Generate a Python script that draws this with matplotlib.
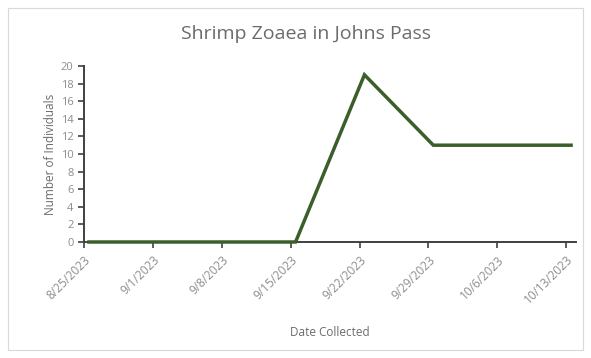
import matplotlib
matplotlib.use("Agg")
import matplotlib.pyplot as plt
from matplotlib.patches import Rectangle

# Sample dates and counts
dates = ["8/25/2023", "9/1/2023", "9/8/2023", "9/15/2023",
         "9/22/2023", "9/29/2023", "10/6/2023", "10/13/2023"]
counts = [0, 0, 0, 0, 19, 11, 11, 11]
day_offsets = [0, 7, 14, 21, 28, 35, 42, 49]   # days since 8/25/2023
y_ticks = list(range(0, 21, 2))

plt.rcParams['font.family'] = ['Open Sans', 'DejaVu Sans']

fig = plt.figure(figsize=(5.91, 3.58), dpi=100)
ax = fig.add_axes([84 / 591, 1 - 242 / 358, (576 - 84) / 591, (242 - 66) / 358])

# each sample sits in the middle of its day on the date axis
x = [d + 0.5 for d in day_offsets]
ax.plot(x, counts, color="#3b5e2b", lw=2.5, solid_joinstyle="miter", zorder=3,
        clip_on=False)

ax.set_xlim(0, 50)
ax.set_ylim(0, 20)
ax.set_xticks(day_offsets)
ax.set_xticklabels(dates, rotation=45, ha="right", rotation_mode="anchor")
ax.set_yticks(y_ticks)

for s in ["top", "right"]:
    ax.spines[s].set_visible(False)
for s in ["left", "bottom"]:
    ax.spines[s].set_color("#404040")
    ax.spines[s].set_linewidth(1.4)

ax.tick_params(axis="both", colors="#404040", width=1.2, length=4,
               labelsize=8, labelcolor="#8c8c8c")
ax.tick_params(axis="x", pad=4, labelsize=8.5)

ax.set_ylabel("Number of Individuals", fontsize=8.5, color="#6b6b6b", labelpad=3)
ax.set_xlabel("Date Collected", fontsize=8.5, color="#6b6b6b", labelpad=14)
fig.text(306 / 591, 1 - 34 / 358, "Shrimp Zoaea in Johns Pass", ha="center",
         va="center", fontsize=14, color="#6b6b6b")

# light chart border
fig.patches.append(Rectangle((8 / 591, 8 / 358), 1 - 16 / 591, 1 - 16 / 358,
                             transform=fig.transFigure, fill=False,
                             edgecolor="#d9d9d9", lw=0.8))

fig.savefig("out.png", dpi=100)
